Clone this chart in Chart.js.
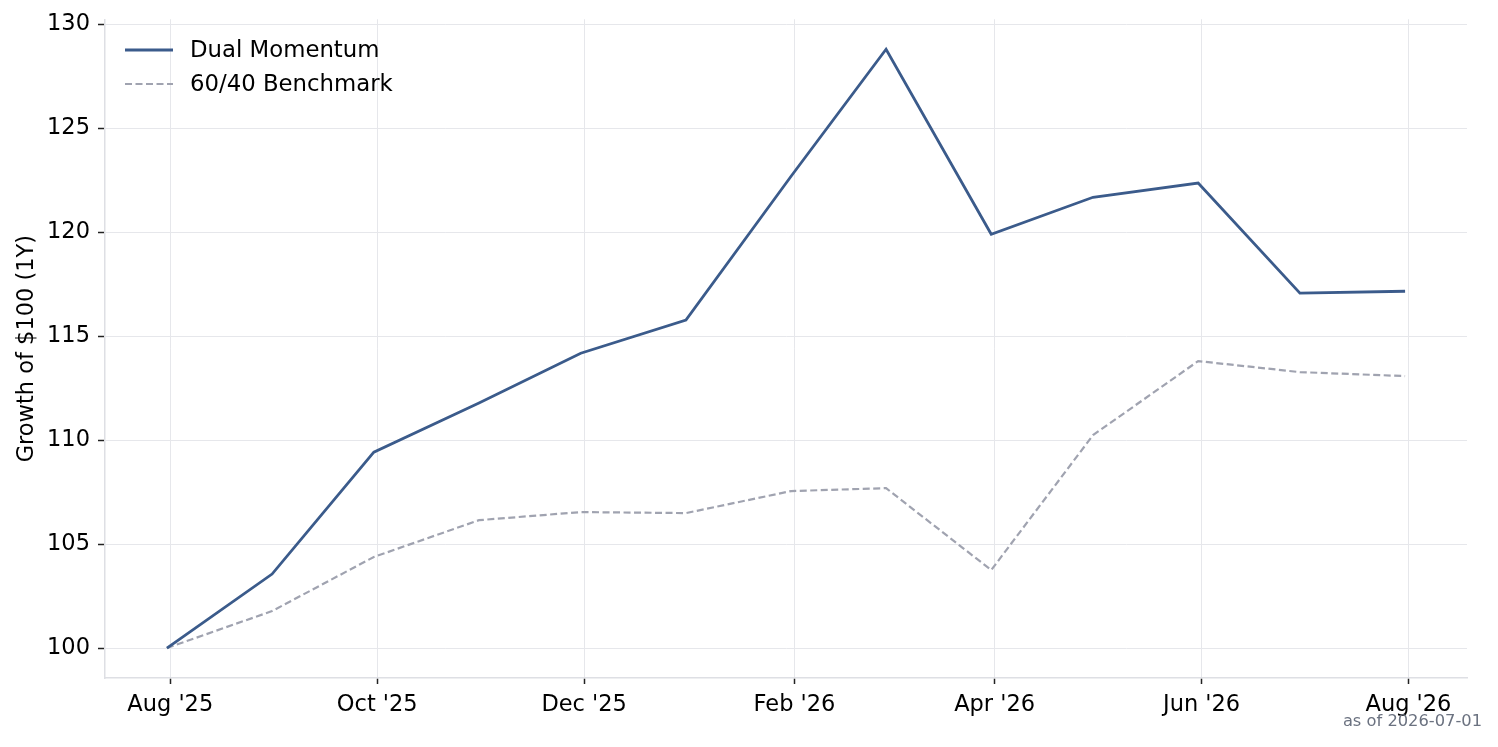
<!DOCTYPE html>
<html>
<head>
<meta charset="utf-8">
<script src="https://cdn.jsdelivr.net/npm/chart.js@4/dist/chart.umd.min.js"></script>
<style>
  html, body { margin: 0; padding: 0; background: #ffffff; }
  #wrap { width: 1498px; height: 747px; position: relative; }
</style>
</head>
<body>
<div id="wrap"><canvas id="c"></canvas></div>
<script>
// ---- Data ----
const dates = ['2025-07-31','2025-08-31','2025-09-30','2025-10-31','2025-11-30','2025-12-31',
               '2026-01-31','2026-02-28','2026-03-31','2026-04-30','2026-05-31','2026-06-30','2026-07-31'];
const dualMomentum = [100, 103.56, 109.42, 111.78, 114.18, 115.77, 122.69, 128.8, 119.9, 121.68, 122.36, 117.07, 117.16];
const benchmark    = [100, 101.78, 104.38, 106.15, 106.54, 106.49, 107.55, 107.69, 103.75, 110.24, 113.8, 113.27, 113.08];
const seriesNames = ['Dual Momentum', '60/40 Benchmark'];
const tickDates  = ['2025-08-01','2025-10-01','2025-12-01','2026-02-01','2026-04-01','2026-06-01','2026-08-01'];
const tickLabels = ["Aug '25","Oct '25","Dec '25","Feb '26","Apr '26","Jun '26","Aug '26"];
const yTicks = [100, 105, 110, 115, 120, 125, 130];
const yTitle = 'Growth of $100 (1Y)';
const footerText = 'as of 2026-07-01';

// ---- helpers ----
const EPOCH = Date.UTC(2025, 7, 1);
function dayNum(s) {
  const [y, m, d] = s.split('-').map(Number);
  return (Date.UTC(y, m - 1, d) - EPOCH) / 86400000;
}
const xs = dates.map(dayNum);
const tickX = tickDates.map(dayNum);
const xSpan = xs[xs.length - 1] - xs[0];
const xMin = xs[0] - xSpan * 0.05, xMax = xs[xs.length - 1] + xSpan * 0.05;
const allY = dualMomentum.concat(benchmark);
const yLo = Math.min(...allY), yHi = Math.max(...allY);
const yMin = yLo - (yHi - yLo) * 0.05, yMax = yHi + (yHi - yLo) * 0.05;

const FONT = 'DejaVu Sans';
const colors = ['#3b5b8b', '#a0a3b0'];
const widths = [2.8, 2.2];
const dashes = [[7, 3.5]];
dashes.unshift([]);

const legendPlugin = {
  id: 'customLegend',
  afterDraw(chart) {
    const ctx = chart.ctx;
    const area = chart.chartArea;
    ctx.save();
    const rowY = [50, 84];
    chart.data.datasets.forEach((ds, i) => {
      ctx.beginPath();
      ctx.setLineDash(ds.borderDash || []);
      ctx.strokeStyle = ds.borderColor;
      ctx.lineWidth = ds.borderWidth;
      ctx.moveTo(area.left + 20, rowY[i]);
      ctx.lineTo(area.left + 68, rowY[i]);
      ctx.stroke();
      ctx.setLineDash([]);
      ctx.fillStyle = '#000000';
      ctx.font = '22.8px "' + FONT + '"';
      ctx.textAlign = 'left';
      ctx.textBaseline = 'middle';
      ctx.fillText(ds.label, area.left + 85, rowY[i] + 1);
    });
    ctx.font = '16.3px "' + FONT + '"';
    ctx.fillStyle = '#6b7280';
    ctx.textAlign = 'right';
    ctx.textBaseline = 'middle';
    ctx.fillText(footerText, 1482, 722);
    ctx.restore();
  }
};

new Chart(document.getElementById('c'), {
  type: 'line',
  data: {
    datasets: [dualMomentum, benchmark].map((vals, i) => ({
      label: seriesNames[i],
      data: vals.map((v, j) => ({ x: xs[j], y: v })),
      borderColor: colors[i],
      backgroundColor: colors[i],
      borderWidth: widths[i],
      borderDash: dashes[i],
      pointRadius: 0,
      pointHoverRadius: 0,
      tension: 0,
      fill: false
    }))
  },
  options: {
    responsive: true,
    maintainAspectRatio: false,
    animation: false,
    layout: { padding: { left: 0, top: 19, right: 31, bottom: 0 } },
    plugins: { legend: { display: false }, tooltip: { enabled: false } },
    scales: {
      x: {
        type: 'linear',
        min: xMin,
        max: xMax,
        afterBuildTicks(scale) { scale.ticks = tickX.map(v => ({ value: v })); },
        afterFit(scale) { scale.height = 69; },
        ticks: {
          autoSkip: false,
          maxRotation: 0,
          padding: 10,
          color: '#000000',
          font: { family: FONT, size: 22.5, lineHeight: 1 },
          callback(value) { const k = tickX.indexOf(value); return k >= 0 ? tickLabels[k] : ''; }
        },
        grid: { color: '#e6e7eb', lineWidth: 1, tickLength: 6, tickColor: '#222222', tickWidth: 1.5 },
        border: { color: '#dedfe4', width: 1.5 }
      },
      y: {
        min: yMin,
        max: yMax,
        afterBuildTicks(scale) { scale.ticks = yTicks.map(v => ({ value: v })); },
        afterFit(scale) { scale.width = 105; },
        ticks: {
          padding: 8,
          color: '#000000',
          font: { family: FONT, size: 22.5, lineHeight: 1 },
          callback(value) { return String(value); }
        },
        title: {
          display: true,
          text: yTitle,
          color: '#000000',
          font: { family: FONT, size: 22.5 },
          padding: { top: 14, bottom: 0 }
        },
        grid: { color: '#e6e7eb', lineWidth: 1, tickLength: 7, tickColor: '#222222', tickWidth: 1.5 },
        border: { color: '#dedfe4', width: 1.5 }
      }
    }
  },
  plugins: [legendPlugin]
});
</script>
</body>
</html>
